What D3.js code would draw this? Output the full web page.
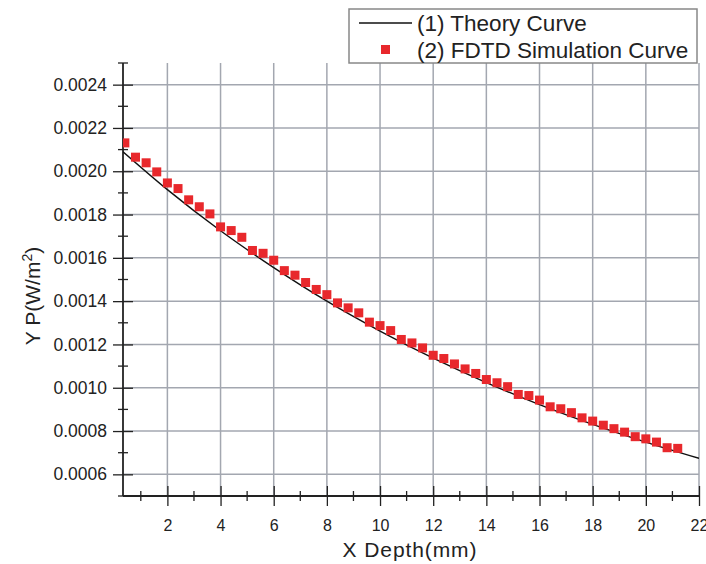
<!DOCTYPE html>
<html>
<head>
<meta charset="utf-8">
<script src="https://cdn.jsdelivr.net/npm/d3@7"></script>
<style>
  body { margin: 0; background: #fff; }
  svg { font-family: "Liberation Sans", Arial, sans-serif; }
</style>
</head>
<body>
<svg id="chart"></svg>
<script>
// theory curve
const theoryX = [0.33, 2, 4, 6, 8, 10, 12, 14, 16, 18, 20, 22]
const theoryY = [0.002090, 0.001915, 0.001725, 0.001555, 0.001400, 0.001262,
                 0.001137, 0.001024, 0.000922, 0.000831, 0.000749, 0.000674]

// FDTD simulation points
const fdtdX = [0.4, 0.8, 1.2, 1.6, 2.0, 2.4, 2.8, 3.2, 3.6, 4.0, 4.4, 4.8, 5.2, 5.6,
               6.0, 6.4, 6.8, 7.2, 7.6, 8.0, 8.4, 8.8, 9.2, 9.6, 10.0, 10.4, 10.8,
               11.2, 11.6, 12.0, 12.4, 12.8, 13.2, 13.6, 14.0, 14.4, 14.8, 15.2,
               15.6, 16.0, 16.4, 16.8, 17.2, 17.6, 18.0, 18.4, 18.8, 19.2, 19.6,
               20.0, 20.4, 20.8, 21.2]
const fdtdY = [0.002131, 0.002065, 0.002039, 0.001997, 0.001946, 0.001920, 0.001868,
               0.001836, 0.001803, 0.001743, 0.001726, 0.001695, 0.001634, 0.001621,
               0.001589, 0.001541, 0.001520, 0.001486, 0.001454, 0.001430, 0.001392,
               0.001369, 0.001346, 0.001303, 0.001287, 0.001264, 0.001223, 0.001207,
               0.001184, 0.001150, 0.001135, 0.001110, 0.001087, 0.001066, 0.001038,
               0.001023, 0.001005, 0.000969, 0.000964, 0.000943, 0.000912, 0.000903,
               0.000885, 0.000861, 0.000846, 0.000827, 0.000811, 0.000795, 0.000774,
               0.000764, 0.000749, 0.000723, 0.000720]

const xTicks = [2, 4, 6, 8, 10, 12, 14, 16, 18, 20, 22]
const xMinor = [1, 3, 5, 7, 9, 11, 13, 15, 17, 19, 21]
const yTicks = [0.0006, 0.0008, 0.0010, 0.0012, 0.0014, 0.0016, 0.0018, 0.0020, 0.0022, 0.0024]
const yMinor = [0.0005, 0.0007, 0.0009, 0.0011, 0.0013, 0.0015, 0.0017, 0.0019, 0.0021, 0.0023, 0.0025]
const legendLabels = ["(1) Theory Curve", "(2) FDTD Simulation Curve"]

const width = 706, height = 564
const margin = {top: 63, right: 7, bottom: 68, left: 123},
      bodyWidth = width - margin.left - margin.right,
      bodyHeight = height - margin.top - margin.bottom

const svg = d3.select("#chart")
              .attr("width", width)
              .attr("height", height)

const body = svg.append("g")
                .attr("transform", `translate(${margin.left},${margin.top})`)

const x = d3.scaleLinear().domain([0.33, 22]).range([0, bodyWidth])
const y = d3.scaleLinear().domain([0.0005, 0.0025]).range([bodyHeight, 0])

const gridColor = "#a3a7b0"

// grid
body.append("g").selectAll("line")
    .data(xTicks).join("line")
    .attr("x1", d => x(d)).attr("x2", d => x(d))
    .attr("y1", 0).attr("y2", bodyHeight)
    .attr("stroke", gridColor).attr("stroke-width", 1.5)

body.append("g").selectAll("line")
    .data(yTicks).join("line")
    .attr("x1", 0).attr("x2", bodyWidth)
    .attr("y1", d => y(d)).attr("y2", d => y(d))
    .attr("stroke", gridColor).attr("stroke-width", 1.5)

// axes (ticks cross the axis line)
const xAxis = body.append("g")
                  .attr("transform", `translate(0,${bodyHeight})`)
xAxis.call(d3.axisBottom(x).tickValues(xTicks).tickSize(10).tickPadding(14).tickFormat(d3.format("d")))
xAxis.select(".domain").remove()
xAxis.selectAll(".tick line").attr("y1", -10).attr("stroke", "#222").attr("stroke-width", 1.3)
xAxis.selectAll(".tick text").attr("font-size", 16).attr("fill", "#222")
xAxis.selectAll(".minor").data(xMinor).join("line")
     .attr("x1", d => x(d)).attr("x2", d => x(d))
     .attr("y1", -5).attr("y2", 5)
     .attr("stroke", "#222").attr("stroke-width", 1.3)

const yAxis = body.append("g")
yAxis.call(d3.axisLeft(y).tickValues(yTicks).tickSize(10).tickPadding(6).tickFormat(d3.format(".4f")))
yAxis.select(".domain").remove()
yAxis.selectAll(".tick line").attr("x1", 10).attr("stroke", "#222").attr("stroke-width", 1.3)
yAxis.selectAll(".tick text").attr("font-size", 17.5).attr("fill", "#222")
yAxis.selectAll(".minor").data(yMinor).join("line")
     .attr("y1", d => y(d)).attr("y2", d => y(d))
     .attr("x1", -5).attr("x2", 5)
     .attr("stroke", "#222").attr("stroke-width", 1.3)

body.append("line")
    .attr("x1", 0).attr("x2", bodyWidth)
    .attr("y1", bodyHeight).attr("y2", bodyHeight)
    .attr("stroke", "#222").attr("stroke-width", 1.8)
body.append("line")
    .attr("x1", 0).attr("x2", 0)
    .attr("y1", 0).attr("y2", bodyHeight)
    .attr("stroke", "#222").attr("stroke-width", 1.8)

// data
body.append("clipPath").attr("id", "clip")
    .append("rect").attr("width", bodyWidth).attr("height", bodyHeight)

const plot = body.append("g").attr("clip-path", "url(#clip)")

const line = d3.line()
               .x((d, i) => x(theoryX[i]))
               .y(d => y(d))
               .curve(d3.curveMonotoneX)

plot.append("path")
    .datum(theoryY)
    .attr("d", line)
    .attr("fill", "none")
    .attr("stroke", "#111")
    .attr("stroke-width", 1.4)

const sq = 9
plot.selectAll("rect.pt")
    .data(fdtdY).join("rect")
    .attr("class", "pt")
    .attr("x", (d, i) => x(fdtdX[i]) - sq / 2)
    .attr("y", d => y(d) - sq / 2)
    .attr("width", sq).attr("height", sq)
    .attr("fill", "#e8282c")

// axis titles
svg.append("text")
   .attr("x", margin.left + bodyWidth / 2 - 1)
   .attr("y", 557)
   .attr("text-anchor", "middle")
   .attr("font-size", 21)
   .attr("letter-spacing", 0.9)
   .attr("fill", "#222")
   .text("X Depth(mm)")

const yTitle = svg.append("text")
   .attr("transform", `translate(40,296) rotate(-90)`)
   .attr("text-anchor", "middle")
   .attr("font-size", 21)
   .attr("fill", "#222")
yTitle.append("tspan").text("Y P(W/m")
yTitle.append("tspan").attr("font-size", 14).attr("dy", -8).text("2")
yTitle.append("tspan").attr("dy", 8).text(")")

// legend
const legend = svg.append("g")
legend.append("rect")
      .attr("x", 349).attr("y", 9)
      .attr("width", 348).attr("height", 54)
      .attr("fill", "#fff")
      .attr("stroke", "#888").attr("stroke-width", 1.5)
legend.append("line")
      .attr("x1", 359).attr("x2", 412)
      .attr("y1", 23).attr("y2", 23)
      .attr("stroke", "#111").attr("stroke-width", 1.4)
legend.append("rect")
      .attr("x", 381).attr("y", 45)
      .attr("width", sq).attr("height", sq)
      .attr("fill", "#e8282c")
legend.selectAll("text.lbl")
      .data(legendLabels).join("text")
      .attr("class", "lbl")
      .attr("x", 417)
      .attr("y", (d, i) => 31 + i * 27)
      .attr("font-size", 22.5)
      .attr("fill", "#222")
      .text(d => d)
</script>
</body>
</html>
